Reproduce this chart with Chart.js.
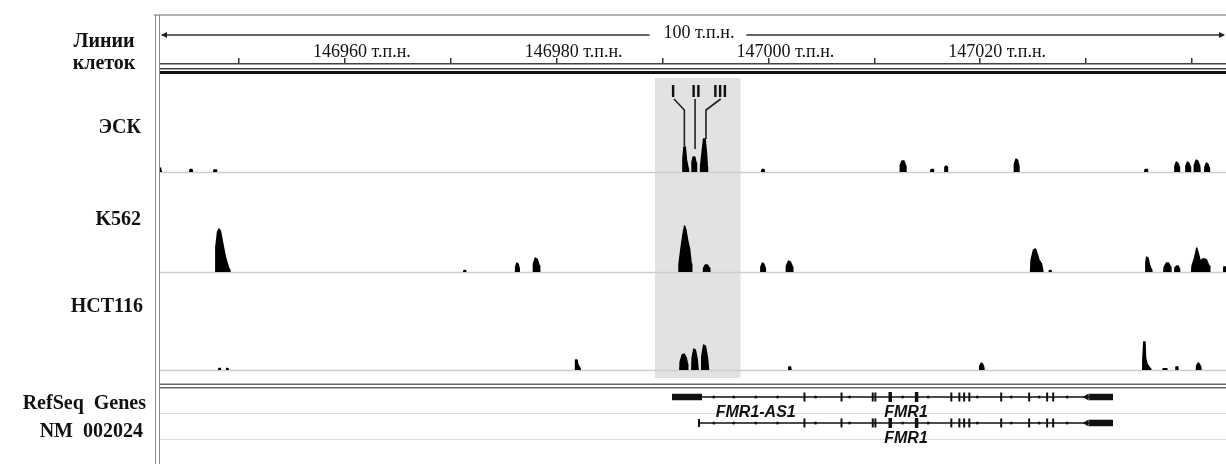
<!DOCTYPE html>
<html><head><meta charset="utf-8">
<script src="https://cdn.jsdelivr.net/npm/chart.js@4.4.1/dist/chart.umd.min.js"></script>
<style>html,body{margin:0;padding:0;background:#fff;} #wrap{width:1226px;height:464px;position:relative;}</style>
</head><body><div id="wrap"><canvas id="c"></canvas></div>
<script>
// ---------- genomic window (kb) ----------
const viewStart = 146942.54;
const viewEnd = 147043.21;
const rulerTicks = [146950, 146960, 146970, 146980, 146990, 147000, 147010, 147020, 147030, 147040];
const rulerLabeled = [146960, 146980, 147000, 147020];
const unit = 'т.п.н.';

// ---------- track names ----------
const trackNames = ['ЭСК', 'K562', 'HCT116'];
const headerLabel = ['Линии', 'клеток'];
const geneTrackLabels = ['RefSeq  Genes', 'NM  002024'];

// ---------- coverage profiles (position kb, signal) ----------
const escX = [146942.54,146942.60,146942.68, 146945.33,146945.38,146945.56,146945.61, 146947.59,146947.64,146947.83,146947.88,
  146991.90,146991.92,146992.02,146992.15,146992.26,146992.43,146992.45,
  146992.76,146992.78,146992.89,146993.04,146993.17,146993.21,
  146993.56,146993.59,146993.73,146993.87,146994.02,146994.16,146994.23,146994.25,
  146999.35,146999.40,146999.58,146999.63,
  147012.43,147012.45,147012.61,147012.80,147012.96,147012.99,
  147015.31,147015.36,147015.54,147015.59,
  147016.63,147016.66,147016.77,147016.88,147016.91,
  147023.19,147023.22,147023.38,147023.52,147023.64,147023.66,
  147035.52,147035.57,147035.75,147035.80,
  147038.35,147038.38,147038.52,147038.66,147038.80,147038.82,
  147039.39,147039.42,147039.56,147039.70,147039.84,147039.86,
  147040.19,147040.22,147040.40,147040.55,147040.73,147040.76,
  147041.18,147041.21,147041.36,147041.50,147041.63,147041.65];
const escY = [4,3,0, 0,2.5,2.5,0, 0,2,2,0,
  0,14,25,25,12,3,0,
  0,10,15,15,9,0,
  0,6,20,33,33,18,5,0,
  0,2.5,2.5,0,
  0,7,11,11,6,0,
  0,2.5,2.5,0,
  0,5,6,5,0,
  0,8,13,12,6,0,
  0,2.5,2.5,0,
  0,6,10,9,5,0,
  0,6,10,9,5,0,
  0,7,12,11,6,0,
  0,5,9,8,4,0];

const k562X = [146947.78,146947.81,146947.97,146948.11,146948.25,146948.39,146948.53,146948.72,146948.91,146949.10,146949.15,
  146971.20,146971.25,146971.39,146971.44,
  146976.09,146976.12,146976.24,146976.36,146976.45,146976.47,
  146977.77,146977.80,146977.98,146978.15,146978.37,146978.40,
  146991.51,146991.55,146991.74,146991.93,146992.08,146992.21,146992.40,146992.57,146992.71,146992.76,
  146993.82,146993.87,146994.03,146994.25,146994.41,146994.46,
  146999.25,146999.28,146999.43,146999.57,146999.69,146999.71,
  147001.66,147001.69,147001.90,147002.08,147002.27,147002.30,
  147024.75,147024.80,147025.03,147025.22,147025.41,147025.55,147025.79,147025.93,
  147026.49,147026.54,147026.68,147026.73,
  147035.59,147035.64,147035.71,147035.85,147035.99,147036.18,147036.21,
  147037.33,147037.37,147037.58,147037.78,147037.98,147038.01,
  147038.35,147038.38,147038.55,147038.70,147038.81,147038.83,
  147039.96,147040.00,147040.24,147040.45,147040.61,147040.80,147040.99,147041.18,147041.37,147041.61,147041.68,
  147042.98,147043.00,147043.21];
const k562Y = [0,25,40,43,41,33,25,15,8,2,0,
  0,1.5,1.5,0,
  0,5,9,8,4,0,
  0,8,14,13,6,0,
  0,8,24,38,46,42,30,22,8,0,
  0,4,7,7,4,0,
  0,5,9,8,4,0,
  0,6,11,10,5,0,
  0,12,22,23,17,12,8,0,
  0,1.5,1.5,0,
  0,10,15,14,7,2,0,
  0,5,9,9,5,0,
  0,4,6,6,3,0,
  0,6,14,24,18,10,13,13,12,6,0,
  0,5,5];

const hctX = [146948.06,146948.09,146948.21,146948.24,
  146948.80,146948.83,146948.96,146948.99,
  146981.76,146981.78,146981.92,146982.01,146982.20,146982.25,
  146991.63,146991.66,146991.85,146992.05,146992.25,146992.35,146992.38,
  146992.76,146992.79,146992.95,146993.10,146993.28,146993.36,
  146993.67,146993.70,146993.88,146994.05,146994.25,146994.35,
  147001.88,147001.92,147002.09,147002.13,
  147019.91,147019.95,147020.10,147020.22,147020.33,147020.36,
  147035.31,147035.35,147035.44,147035.56,147035.62,147035.75,147035.94,147036.11,147036.13,
  147037.25,147037.28,147037.60,147037.63,
  147038.44,147038.48,147038.63,147038.67,
  147040.38,147040.42,147040.58,147040.70,147040.81,147040.84];
const hctY = [0,1.5,1.5,0,
  0,1.5,1.5,0,
  0,10,10,5,2,0,
  0,8,15,16,12,6,0,
  0,12,21,20,10,0,
  0,14,25,24,12,0,
  0,3,3,0,
  0,4,7,6,3,0,
  0,10,28,28,12,6,3,1,0,
  0,1.2,1.2,0,
  0,3,3,0,
  0,4,7,6,3,0];

// ---------- highlighted region and peak markers I / II / III ----------
const highlightRegion = [146989.29, 146997.36];
const markerNames = ['I', 'II', 'III'];
const markerX = [146990.99, 146993.16, 146995.43];
const markerLevel = 80;
const connIX = [146991.08, 146992.06, 146992.06], connIY = [73, 62, 26];
const connIIX = [146993.07, 146993.07],           connIIY = [73, 23];
const connIIIX = [146995.49, 146994.10, 146994.10], connIIIY = [73, 62, 33];

// ---------- RefSeq genes ----------
const as1Block = [146990.89, 146993.73];          // FMR1-AS1 (row 1)
const fmr1Start = 146993.44;                      // FMR1 transcript start (row 2)
const fmr1Utr3 = [147030.28, 147032.54];          // thick 3' block
const fmr1Exons = [147003.40, 147006.90, 147009.85, 147010.10, 147017.27, 147018.03, 147018.48, 147018.97, 147021.98, 147024.62, 147026.32, 147026.89];
const fmr1BigExons = [147011.50, 147013.99];
const strandMarks = [146994.84, 146996.72, 146998.80, 147000.86, 147004.45, 147007.66, 147012.67, 147015.08, 147019.72, 147022.93, 147025.56, 147028.21];
const arrowHead = 147030.05;
const geneLabels = ['FMR1-AS1', 'FMR1', 'FMR1'];
const geneLabelX = [146998.80, 147012.99, 147012.99];
const geneLabelRow = [1, 1, 2];

// ---------- build ----------
const pts = (xs, ys) => xs.map((x, i) => ({x, y: ys[i]}));
const rowPts = (xs, row) => xs.map(x => ({x, y: row}));

function coverage(xs, ys, axis) {
  return { type: 'line', yAxisID: axis, data: pts(xs, ys), borderColor: '#000', borderWidth: 1.4,
    borderJoinStyle: 'round', backgroundColor: '#000', fill: 'origin', pointRadius: 0, tension: 0,
    segment: { borderColor: c => (c.p0.parsed.y === 0 && c.p1.parsed.y === 0) ? 'rgba(0,0,0,0)' : '#000' } };
}
function conn(xs, ys) {
  return { type: 'line', yAxisID: 'yEsc', data: pts(xs, ys), borderColor: '#222', borderWidth: 1.6,
    pointRadius: 0, fill: false, tension: 0 };
}
function seg(x0, x1, row, w) {
  return { type: 'line', yAxisID: 'yGene', data: [{x: x0, y: row}, {x: x1, y: row}], borderColor: '#111',
    borderWidth: w, borderCapStyle: 'butt', pointRadius: 0, fill: false };
}
function marks(xs, rows, style) {
  let data = [];
  rows.forEach(r => { data = data.concat(rowPts(xs, r)); });
  return Object.assign({ type: 'scatter', yAxisID: 'yGene', data, showLine: false, pointHoverRadius: 0 }, style);
}

const datasets = [
  coverage(escX, escY, 'yEsc'),
  coverage(k562X, k562Y, 'yK562'),
  coverage(hctX, hctY, 'yHct'),
  conn(connIX, connIY), conn(connIIX, connIIY), conn(connIIIX, connIIIY),
  seg(as1Block[1], fmr1Utr3[0], 1, 1.6),
  seg(fmr1Start, fmr1Utr3[0], 2, 1.6),
  seg(as1Block[0], as1Block[1], 1, 6.5),
  seg(fmr1Utr3[0], fmr1Utr3[1], 1, 6.5),
  seg(fmr1Utr3[0], fmr1Utr3[1], 2, 6.5),
  marks(fmr1Exons, [1, 2], { pointStyle: 'line', rotation: 90, pointRadius: 4.5, borderWidth: 2, borderColor: '#111' }),
  marks(fmr1BigExons, [1, 2], { pointStyle: 'line', rotation: 90, pointRadius: 5, borderWidth: 3.5, borderColor: '#111' }),
  marks([fmr1Start], [2], { pointStyle: 'line', rotation: 90, pointRadius: 4, borderWidth: 2, borderColor: '#111' }),
  marks(strandMarks, [1, 2], { pointStyle: 'circle', pointRadius: 1.5, borderWidth: 0, backgroundColor: '#222' }),
  marks([arrowHead], [1, 2], { pointStyle: 'triangle', rotation: -90, pointRadius: 4, borderWidth: 0, backgroundColor: '#111' })
];

function zeroPad(s) { s.paddingLeft = 0; s.paddingRight = 0; s.paddingTop = 0; s.paddingBottom = 0; }

function hiddenY(weight, stackWeight, min, max, reverse) {
  return { type: 'linear', position: 'left', stack: 'tracks', stackWeight, weight, min, max, reverse: !!reverse,
    display: true, grid: { display: false, drawTicks: false }, border: { display: false }, ticks: { display: false },
    afterFit: s => { s.width = 160; zeroPad(s); } };
}

const decor = {
  id: 'decor',
  beforeDraw(chart) {
    const c = chart.ctx; c.save(); c.fillStyle = '#fff'; c.fillRect(0, 0, chart.width, chart.height); c.restore();
  },
  beforeDatasetsDraw(chart) {
    const c = chart.ctx, a = chart.chartArea, s = chart.scales;
    c.save();
    // highlight
    const hx0 = s.x.getPixelForValue(highlightRegion[0]), hx1 = s.x.getPixelForValue(highlightRegion[1]);
    c.fillStyle = '#e2e2e2';
    c.fillRect(hx0, s.yEsc.top + 14, hx1 - hx0, s.yHct.bottom + 8 - (s.yEsc.top + 14));
    // baselines
    c.strokeStyle = '#cdcdcd'; c.lineWidth = 1.5;
    ['yEsc', 'yK562', 'yHct'].forEach(id => {
      const y = s[id].getPixelForValue(0) + 0.5;
      c.beginPath(); c.moveTo(a.left, y); c.lineTo(a.right, y); c.stroke();
    });
    // gene row separators
    c.strokeStyle = '#dcdcdc'; c.lineWidth = 1;
    [1, 2].forEach(r => {
      const y = Math.round(s.yGene.getPixelForValue(r)) + 16.5;
      c.beginPath(); c.moveTo(a.left, y); c.lineTo(a.right, y); c.stroke();
    });
    // frame
    c.strokeStyle = '#999'; c.lineWidth = 1.5;
    c.beginPath(); c.moveTo(154, 15); c.lineTo(chart.width, 15); c.stroke();
    c.strokeStyle = '#8a8a8a'; c.lineWidth = 1;
    [155.5, 159.5].forEach(x => { c.beginPath(); c.moveTo(x, 15); c.lineTo(x, chart.height); c.stroke(); });
    // ruler double line
    c.fillStyle = '#444'; c.fillRect(a.left, a.top + 4, a.right - a.left, 1.5);
    c.fillStyle = '#111'; c.fillRect(a.left, a.top + 7, a.right - a.left, 3);
    // separator above genes
    c.fillStyle = '#666';
    c.fillRect(a.left, s.yHct.bottom + 13.5, a.right - a.left, 1.5);
    c.fillRect(a.left, s.yHct.bottom + 17, a.right - a.left, 1.5);
    c.restore();
  },
  afterDraw(chart) {
    const c = chart.ctx, a = chart.chartArea, s = chart.scales;
    c.save();
    // ruler arrow with span label
    const span = Math.floor(viewEnd - viewStart) + ' ' + unit;
    c.font = '18px "Liberation Serif"';
    c.textAlign = 'center'; c.textBaseline = 'middle'; c.fillStyle = '#111';
    const cx = (a.left + a.right) / 2 + 6, ry = 35;
    c.fillText(span, cx, ry - 2);
    const tw = c.measureText(span).width;
    c.strokeStyle = '#333'; c.lineWidth = 1.5;
    c.beginPath(); c.moveTo(a.left + 2, ry); c.lineTo(cx - tw / 2 - 14, ry);
    c.moveTo(cx + tw / 2 + 12, ry); c.lineTo(a.right - 2, ry); c.stroke();
    c.fillStyle = '#222';
    c.beginPath(); c.moveTo(a.left + 1, ry); c.lineTo(a.left + 7, ry - 3); c.lineTo(a.left + 7, ry + 3); c.fill();
    c.beginPath(); c.moveTo(a.right - 1, ry); c.lineTo(a.right - 7, ry - 3); c.lineTo(a.right - 7, ry + 3); c.fill();
    // left labels
    c.font = 'bold 20px "Liberation Serif"'; c.fillStyle = '#111'; c.textBaseline = 'middle';
    c.textAlign = 'center';
    c.fillText(headerLabel[0], 104, a.top - 22);
    c.fillText(headerLabel[1], 104, a.top);
    c.textAlign = 'right';
    c.fillText(trackNames[0], 141, s.yEsc.top + 64);
    c.fillText(trackNames[1], 141, s.yK562.top + 48);
    c.fillText(trackNames[2], 143, s.yHct.top + 35);
    c.fillText(geneTrackLabels[0], 146, s.yGene.getPixelForValue(1) + 7);
    c.fillText(geneTrackLabels[1], 143, s.yGene.getPixelForValue(2) + 9);
    // roman markers
    c.font = 'bold 17px "Liberation Sans"'; c.textAlign = 'center'; c.textBaseline = 'middle';
    markerNames.forEach((t, i) => c.fillText(t, s.x.getPixelForValue(markerX[i]), s.yEsc.getPixelForValue(markerLevel)));
    // gene labels
    c.font = 'italic bold 16px "Liberation Sans"'; c.fillStyle = '#111';
    geneLabels.forEach((t, i) => c.fillText(t, s.x.getPixelForValue(geneLabelX[i]), s.yGene.getPixelForValue(geneLabelRow[i]) + 15.5));
    c.restore();
  }
};

new Chart(document.getElementById('c'), {
  type: 'line',
  data: { datasets },
  options: {
    responsive: true, maintainAspectRatio: false, animation: false,
    layout: { padding: 0, autoPadding: false },
    plugins: { legend: { display: false }, tooltip: { enabled: false } },
    scales: {
      x: { type: 'linear', position: 'top', min: viewStart, max: viewEnd,
        afterBuildTicks: sc => { sc.ticks = rulerTicks.map(v => ({value: v})); },
        afterFit: sc => { sc.height = 64; zeroPad(sc); },
        grid: { drawOnChartArea: false, drawTicks: true, tickLength: 6, color: '#333', lineWidth: 1.5 },
        border: { display: true, color: '#444', width: 1.5 },
        ticks: { autoSkip: false, maxRotation: 0, minRotation: 0, padding: -5, labelOffset: 17, color: '#111',
          font: { family: 'Liberation Serif', size: 18 },
          callback: v => rulerLabeled.includes(v) ? v + ' ' + unit : '' } },
      yEsc: hiddenY(4, 108, 0, 108),
      yK562: hiddenY(3, 100, 0, 100),
      yHct: hiddenY(2, 98, 0, 98),
      yGene: hiddenY(1, 94, -0.04, 3.58, true)
    }
  },
  plugins: [decor]
});
</script></body></html>
